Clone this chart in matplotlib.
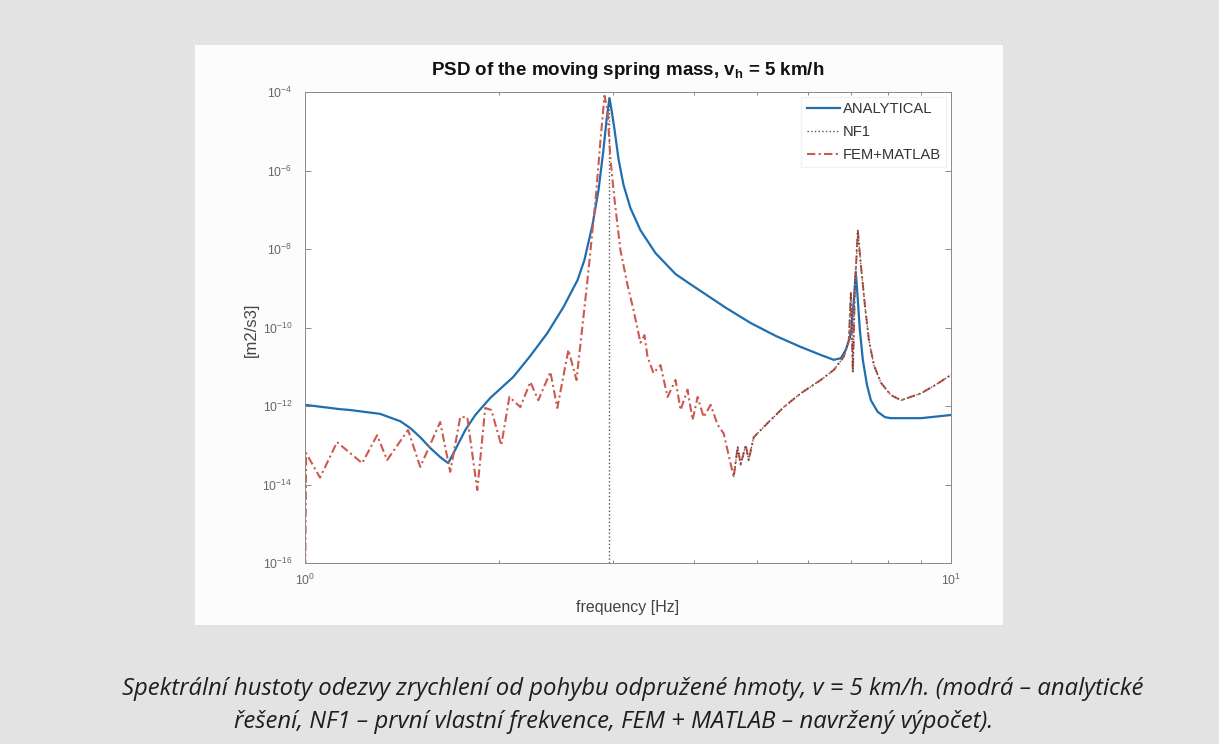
import numpy as np
import matplotlib
matplotlib.use("Agg")
import matplotlib.pyplot as plt
from matplotlib.patches import Rectangle
from matplotlib.ticker import FixedLocator, FixedFormatter, NullFormatter

plt.rcParams['font.family'] = ['Liberation Sans', 'DejaVu Sans']
plt.rcParams['mathtext.fontset'] = 'custom'
plt.rcParams['mathtext.rm'] = 'Liberation Sans'
plt.rcParams['mathtext.it'] = 'Liberation Sans:italic'
plt.rcParams['mathtext.bf'] = 'Liberation Sans:bold'

# analytical PSD (blue)
an_freq = [1.000, 1.133, 1.174, 1.307, 1.404, 1.455, 1.508, 1.563, 1.619, 1.666,
           1.708, 1.771, 1.835, 1.935, 2.101, 2.233, 2.372, 2.512,
           2.641, 2.707, 2.786, 2.847, 2.897, 2.929, 2.960, 2.982, 3.014, 3.058,
           3.112, 3.190, 3.306, 3.487, 3.746, 3.925, 4.097, 4.479, 4.897, 5.354, 5.853,
           6.286, 6.586, 6.752, 6.873, 6.973, 7.022, 7.073, 7.123, 7.174, 7.226,
           7.303, 7.410, 7.516, 7.700, 7.902, 8.070, 8.990, 10.00]
an_psd = [1.07e-12, 8.3e-13, 7.9e-13, 6.3e-13, 4.1e-13, 2.75e-13, 1.6e-13, 8.5e-14, 5.0e-14, 3.5e-14,
          7.6e-14, 2.45e-13, 5.9e-13, 1.6e-12, 5.5e-12, 1.9e-11, 7.2e-11, 3.3e-10,
          1.6e-9, 5.2e-9, 4.1e-8, 3.2e-7, 3.3e-6, 1.9e-5, 7.0e-5, 3.5e-5, 1.1e-5, 1.9e-6,
          4.3e-7, 1.1e-7, 3.0e-8, 7.9e-9, 2.3e-9, 1.36e-9, 8.5e-10, 3.2e-10, 1.3e-10, 6.1e-11, 3.2e-11,
          2.0e-11, 1.5e-11, 1.65e-11, 2.7e-11, 5.4e-11, 1.15e-10, 5.0e-10, 2.6e-9, 5.0e-10, 8.7e-11,
          1.5e-11, 3.5e-12, 1.4e-12, 7.1e-13, 5.2e-13, 4.9e-13, 4.9e-13, 5.9e-13]

# FEM + MATLAB PSD (red)
fem_freq = [1.000, 1.004, 1.055, 1.121, 1.226, 1.293, 1.340, 1.444, 1.508, 1.619,
            1.678, 1.739, 1.783, 1.848, 1.901, 1.943, 2.013, 2.072, 2.154, 2.233,
            2.297, 2.398, 2.458, 2.557, 2.632, 2.737, 2.817, 2.867, 2.908, 2.939,
            2.971, 3.014, 3.078, 3.157, 3.225, 3.306, 3.354, 3.390, 3.463, 3.551,
            3.641, 3.746, 3.814, 3.910, 3.981, 4.053, 4.141, 4.246, 4.353, 4.447,
            4.527, 4.609, 4.675, 4.725, 4.810, 4.862, 4.950, 5.204, 5.510, 5.853,
            6.286, 6.586, 6.824, 6.948, 6.998, 7.048, 7.098, 7.174, 7.252, 7.357,
            7.463, 7.597, 7.790, 8.072, 8.366, 8.985, 9.478, 10.00]
fem_psd = [1e-17, 6.3e-14, 1.5e-14, 1.2e-13, 3.5e-14, 1.8e-13, 4.2e-14, 2.45e-13, 2.8e-14, 3.9e-13,
           2.1e-14, 5.2e-13, 5.2e-13, 7.2e-15, 8.9e-13, 7.9e-13, 1.0e-13, 1.7e-12, 9.4e-13, 4.1e-12,
           1.4e-12, 7.4e-12, 8.9e-13, 2.7e-11, 4.6e-12, 1.6e-9, 1.8e-7, 6.0e-6, 8.0e-5, 3.5e-5,
           1.9e-6, 1.8e-7, 9.4e-9, 1.2e-9, 2.8e-10, 4.1e-11, 6.4e-11, 1.8e-11, 6.9e-12, 1.1e-11,
           1.7e-12, 4.6e-12, 7.9e-13, 2.6e-12, 4.4e-13, 1.7e-12, 5.2e-13, 1.07e-12, 3.3e-13, 2.0e-13,
           5.6e-14, 1.55e-14, 9.1e-14, 3.2e-14, 1.0e-13, 4.2e-14, 1.6e-13, 3.7e-13, 9.4e-13, 2.1e-12,
           4.6e-12, 8.3e-12, 1.8e-11, 4.8e-11, 7.6e-10, 7.4e-12, 9.1e-10, 3.0e-8, 3.9e-9, 3.7e-10,
           4.8e-11, 1.1e-11, 3.9e-12, 1.9e-12, 1.4e-12, 2.1e-12, 3.5e-12, 6.2e-12]

# first natural frequency (NF1)
nf1_freq = [2.96, 2.96]
nf1_psd = [1e-16, 8.0e-5]
nf1_overlay_from = 4.6  # NF1 curve coincides with FEM above this frequency

y_ticks = [1e-16, 1e-14, 1e-12, 1e-10, 1e-8, 1e-6, 1e-4]
y_labels = [r'$10^{-16}$', r'$10^{-14}$', r'$10^{-12}$', r'$10^{-10}$',
            r'$10^{-8}$', r'$10^{-6}$', r'$10^{-4}$']
x_ticks = [1, 10]
x_labels = [r'$10^{0}$', r'$10^{1}$']

W, H = 1219, 744
fig = plt.figure(figsize=(W / 100, H / 100), dpi=100, facecolor='#e3e3e3')

# white panel of the scanned figure
fig.patches.append(Rectangle((195 / W, 1 - 625 / H), (1003 - 195) / W, (625 - 45) / H,
                             transform=fig.transFigure, facecolor='#fcfcfc',
                             edgecolor='none', zorder=-5))

ax = fig.add_axes([305 / W, 1 - 563 / H, (951 - 305) / W, (563 - 92) / H])
ax.set_zorder(2)
ax.set_facecolor('white')

ax.loglog(an_freq, an_psd, '-', color='#1f6fb0', lw=1.6, label='ANALYTICAL')
ax.loglog(nf1_freq, nf1_psd, ':', color='#555555', lw=1.0, label='NF1')
ax.loglog(fem_freq, fem_psd, '-.', color='#cc5a4e', lw=1.5, dashes=(4, 1.6, 1, 1.6),
          label='FEM+MATLAB')

fem_f = np.array(fem_freq)
fem_p = np.array(fem_psd)
sel = fem_f >= nf1_overlay_from
ax.loglog(fem_f[sel], fem_p[sel], ':', color='#444444', lw=0.9)

ax.set_xlim(1, 10)
ax.set_ylim(1e-16, 1e-4)
ax.yaxis.set_major_locator(FixedLocator(y_ticks))
ax.yaxis.set_major_formatter(FixedFormatter(y_labels))
ax.yaxis.set_minor_formatter(NullFormatter())
ax.xaxis.set_major_locator(FixedLocator(x_ticks))
ax.xaxis.set_major_formatter(FixedFormatter(x_labels))
ax.xaxis.set_minor_formatter(NullFormatter())
ax.tick_params(which='both', direction='in', colors='#777777', labelcolor='#666666',
               labelsize=8.8, top=True, right=True, width=0.6)
ax.tick_params(which='major', length=4)
ax.tick_params(axis='y', which='major', pad=9)
ax.tick_params(axis='x', which='major', pad=7)
ax.tick_params(which='minor', length=2)
for s in ax.spines.values():
    s.set_color('#8a8a8a')
    s.set_linewidth(0.7)

ax.set_title(r'PSD of the moving spring mass, $\mathbf{v_h}$ = 5 km/h',
             fontsize=13.5, fontweight='bold', color='#111111', pad=12)
ax.set_xlabel('frequency [Hz]', fontsize=11.5, color='#444444', labelpad=9)
ax.set_ylabel('[m2/s3]', fontsize=12, color='#444444')
ax.yaxis.set_label_coords(-0.072, 0.495)

leg = ax.legend(loc='upper right', fontsize=10.6, frameon=True, fancybox=False,
                edgecolor='#eeeeee', handlelength=2.3, handletextpad=0.15,
                borderpad=0.35, labelspacing=0.6, borderaxespad=0.35)
for t in leg.get_texts():
    t.set_color('#333333')

cap1 = 'Spektrální hustoty odezvy zrychlení od pohybu odpružené hmoty, v = 5 km/h. (modrá – analytické'
cap2 = 'řešení, NF1 – první vlastní frekvence, FEM + MATLAB – navržený výpočet).'
fig.text(633 / W, 1 - 689 / H, cap1, ha='center', va='center', fontsize=17.2,
         family='Open Sans', style='italic', color='#1e1e1e')
fig.text(614 / W, 1 - 722 / H, cap2, ha='center', va='center', fontsize=17.2,
         family='Open Sans', style='italic', color='#1e1e1e')

fig.savefig('out.png', dpi=100, facecolor=fig.get_facecolor())
